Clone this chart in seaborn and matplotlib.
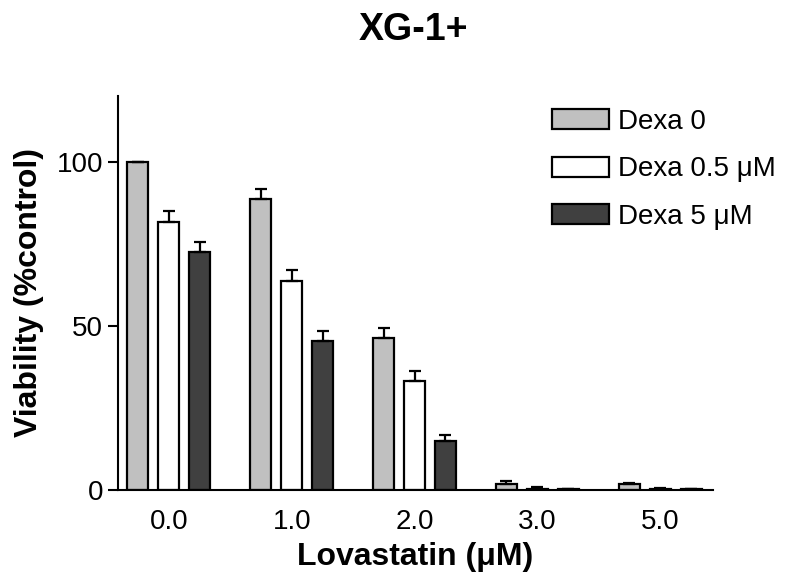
import numpy as np
import pandas as pd
from matplotlib import pyplot as plt
from matplotlib.patches import Patch
import seaborn as sns

# Data
lovastatin = ['0.0', '1.0', '2.0', '3.0', '5.0']
groups = ['Dexa 0', 'Dexa 0.5 \u03bcM', 'Dexa 5 \u03bcM']
dexa_0 = [100.0, 88.5, 46.2, 1.7, 1.7]
dexa_0_err = [0.0, 3.0, 3.0, 1.1, 0.3]
dexa_05 = [81.5, 63.7, 33.0, 0.3, 0.3]
dexa_05_err = [3.5, 3.2, 3.2, 0.7, 0.1]
dexa_5 = [72.4, 45.4, 15.0, 0.2, 0.2]
dexa_5_err = [3.0, 3.0, 1.7, 0.0, 0.0]
colors = ['#c0c0c0', '#ffffff', '#404040']

values = [dexa_0, dexa_05, dexa_5]
errors = [dexa_0_err, dexa_05_err, dexa_5_err]

df = pd.DataFrame({
    'Lovastatin': lovastatin * 3,
    'Group': np.repeat(groups, len(lovastatin)),
    'Viability': dexa_0 + dexa_05 + dexa_5,
})

sns.set_style('ticks')
plt.rcParams['font.family'] = ['Liberation Sans', 'DejaVu Sans']
for key in ['text.color', 'axes.labelcolor', 'xtick.color', 'ytick.color',
            'axes.edgecolor']:
    plt.rcParams[key] = 'black'

fig = plt.figure(figsize=(8.02, 5.81), dpi=100)
ax = fig.add_axes([0.147, 0.157, 0.742, 0.678])

sns.barplot(data=df, x='Lovastatin', y='Viability', hue='Group',
            hue_order=groups, order=lovastatin, palette=colors,
            edgecolor='black', linewidth=1.6, width=0.756, gap=0.32,
            errorbar=None, legend=False, ax=ax)

# one-sided (upper) error bars on top of each bar
for cont, err in zip(ax.containers, errors):
    xs = [p.get_x() + p.get_width() / 2 for p in cont.patches]
    hs = [p.get_height() for p in cont.patches]
    up = np.array(err)
    ax.errorbar(xs, hs, yerr=[np.zeros_like(up), up], fmt='none',
                ecolor='black', elinewidth=1.6, capsize=4, capthick=1.6,
                zorder=1)

ax.set_xlim(-0.415, 4.43)
ax.set_ylim(0, 120)
ax.set_yticks([0, 50, 100])
ax.tick_params(axis='y', length=7.5, width=1.5, direction='out',
               labelsize=20, pad=3)
ax.tick_params(axis='x', length=0, labelsize=20, pad=14)
for side in ['left', 'bottom']:
    ax.spines[side].set_linewidth(1.5)
sns.despine(ax=ax)

ax.set_xlabel('Lovastatin (\u03bcM)', fontsize=23, fontweight='bold')
ax.set_ylabel('Viability (%control)', fontsize=23, fontweight='bold')
ax.xaxis.set_label_coords(0.5, -0.133)
ax.yaxis.set_label_coords(-0.125, 0.5)

fig.text(0.516, 0.948, 'XG-1+', fontsize=27, fontweight='bold',
         ha='center', va='center')

handles = [Patch(facecolor=c, edgecolor='black', linewidth=1.6) for c in colors]
ax.legend(handles, groups, loc='upper left',
          bbox_to_anchor=(0.688, 0.813), bbox_transform=fig.transFigure,
          frameon=False, fontsize=20, handlelength=2.05, handleheight=0.72,
          handletextpad=0.32, labelspacing=0.78, borderpad=0, borderaxespad=0)

fig.savefig('out.png', dpi=100)
